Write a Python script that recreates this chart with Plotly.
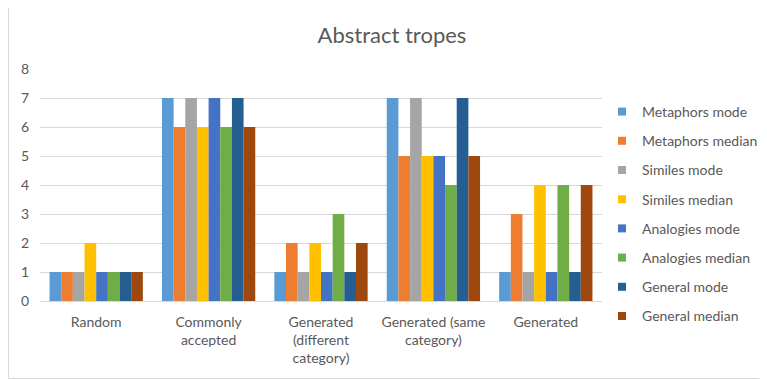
import plotly.graph_objects as go

categories = ["Random", "Commonly<br>accepted", "Generated<br>(different<br>category)",
              "Generated (same<br>category)", "Generated"]
series_names = ["Metaphors mode", "Metaphors median", "Similes mode", "Similes median",
                "Analogies mode", "Analogies median", "General mode", "General median"]
metaphors_mode = [1, 7, 1, 7, 1]
metaphors_median = [1, 6, 2, 5, 3]
similes_mode = [1, 7, 1, 7, 1]
similes_median = [2, 6, 2, 5, 4]
analogies_mode = [1, 7, 1, 5, 1]
analogies_median = [1, 6, 3, 4, 4]
general_mode = [1, 7, 1, 7, 1]
general_median = [1, 6, 2, 5, 4]
series_values = [metaphors_mode, metaphors_median, similes_mode, similes_median,
                 analogies_mode, analogies_median, general_mode, general_median]
colors = ["#5B9BD5", "#ED7D31", "#A5A5A5", "#FFC000", "#4472C4", "#70AD47", "#255E91", "#9E480E"]
y_ticks = [0, 1, 2, 3, 4, 5, 6, 7, 8]

FONT = "Lato, 'Open Sans', sans-serif"
OFF = 8  # page body margin

fig = go.Figure()
for i, (name, vals) in enumerate(zip(series_names, series_values)):
    fig.add_trace(go.Bar(x=categories, y=vals, name=name, marker_color=colors[i],
                         marker_line_width=0, showlegend=False))
# legend entries with small square swatches
for i, name in enumerate(series_names):
    fig.add_trace(go.Scatter(x=[None], y=[None], mode="markers", name=name,
                             marker=dict(symbol="square", size=8, color=colors[i]),
                             legendgroup=f"g{i}", showlegend=True))

W, H = 767 - OFF, 380 - OFF
L, T = 40 - OFF, 69 - OFF
pw, ph = 562, 232
R = W - L - pw
B = H - T - ph

def px2x(px):
    return (px - OFF - L) / pw

def py2y(py):
    return (H - B - (py - OFF)) / ph

fig.add_shape(type="rect", xref="paper", yref="paper",
              x0=px2x(8.5), x1=px2x(760.5), y0=py2y(378.5), y1=py2y(5.5),
              line=dict(color="#D9D9D9", width=1), fillcolor="rgba(0,0,0,0)", layer="below")

fig.update_layout(
    width=W, height=H,
    margin=dict(l=L, r=R, t=T, b=B, autoexpand=False),
    paper_bgcolor="white", plot_bgcolor="white",
    barmode="group", bargap=0.17, bargroupgap=0,
    font=dict(family=FONT, size=14, color="#595959"),
    title=dict(text="Abstract tropes", x=(392 - OFF) / W, xref="container", xanchor="center",
               y=1 - (35 - OFF) / H, yanchor="middle",
               font=dict(family=FONT, size=22, color="#595959")),
    xaxis=dict(showgrid=False, showline=True, linecolor="#D9D9D9", linewidth=1,
               ticks="", tickfont=dict(size=14, color="#595959"), ticklabelstandoff=8),
    yaxis=dict(range=[0, 8], tickvals=y_ticks, showgrid=True, gridcolor="#D9D9D9",
               gridwidth=1, zeroline=False, showline=False, ticks="",
               tickfont=dict(size=14, color="#595959"), ticklabelstandoff=10),
    legend=dict(x=px2x(602), xanchor="left", y=py2y(96), yanchor="top",
                font=dict(size=14, color="#595959"), tracegroupgap=8,
                itemwidth=30, bgcolor="rgba(0,0,0,0)", maxheight=400),
    showlegend=True,
)

fig.write_html("out.html")
